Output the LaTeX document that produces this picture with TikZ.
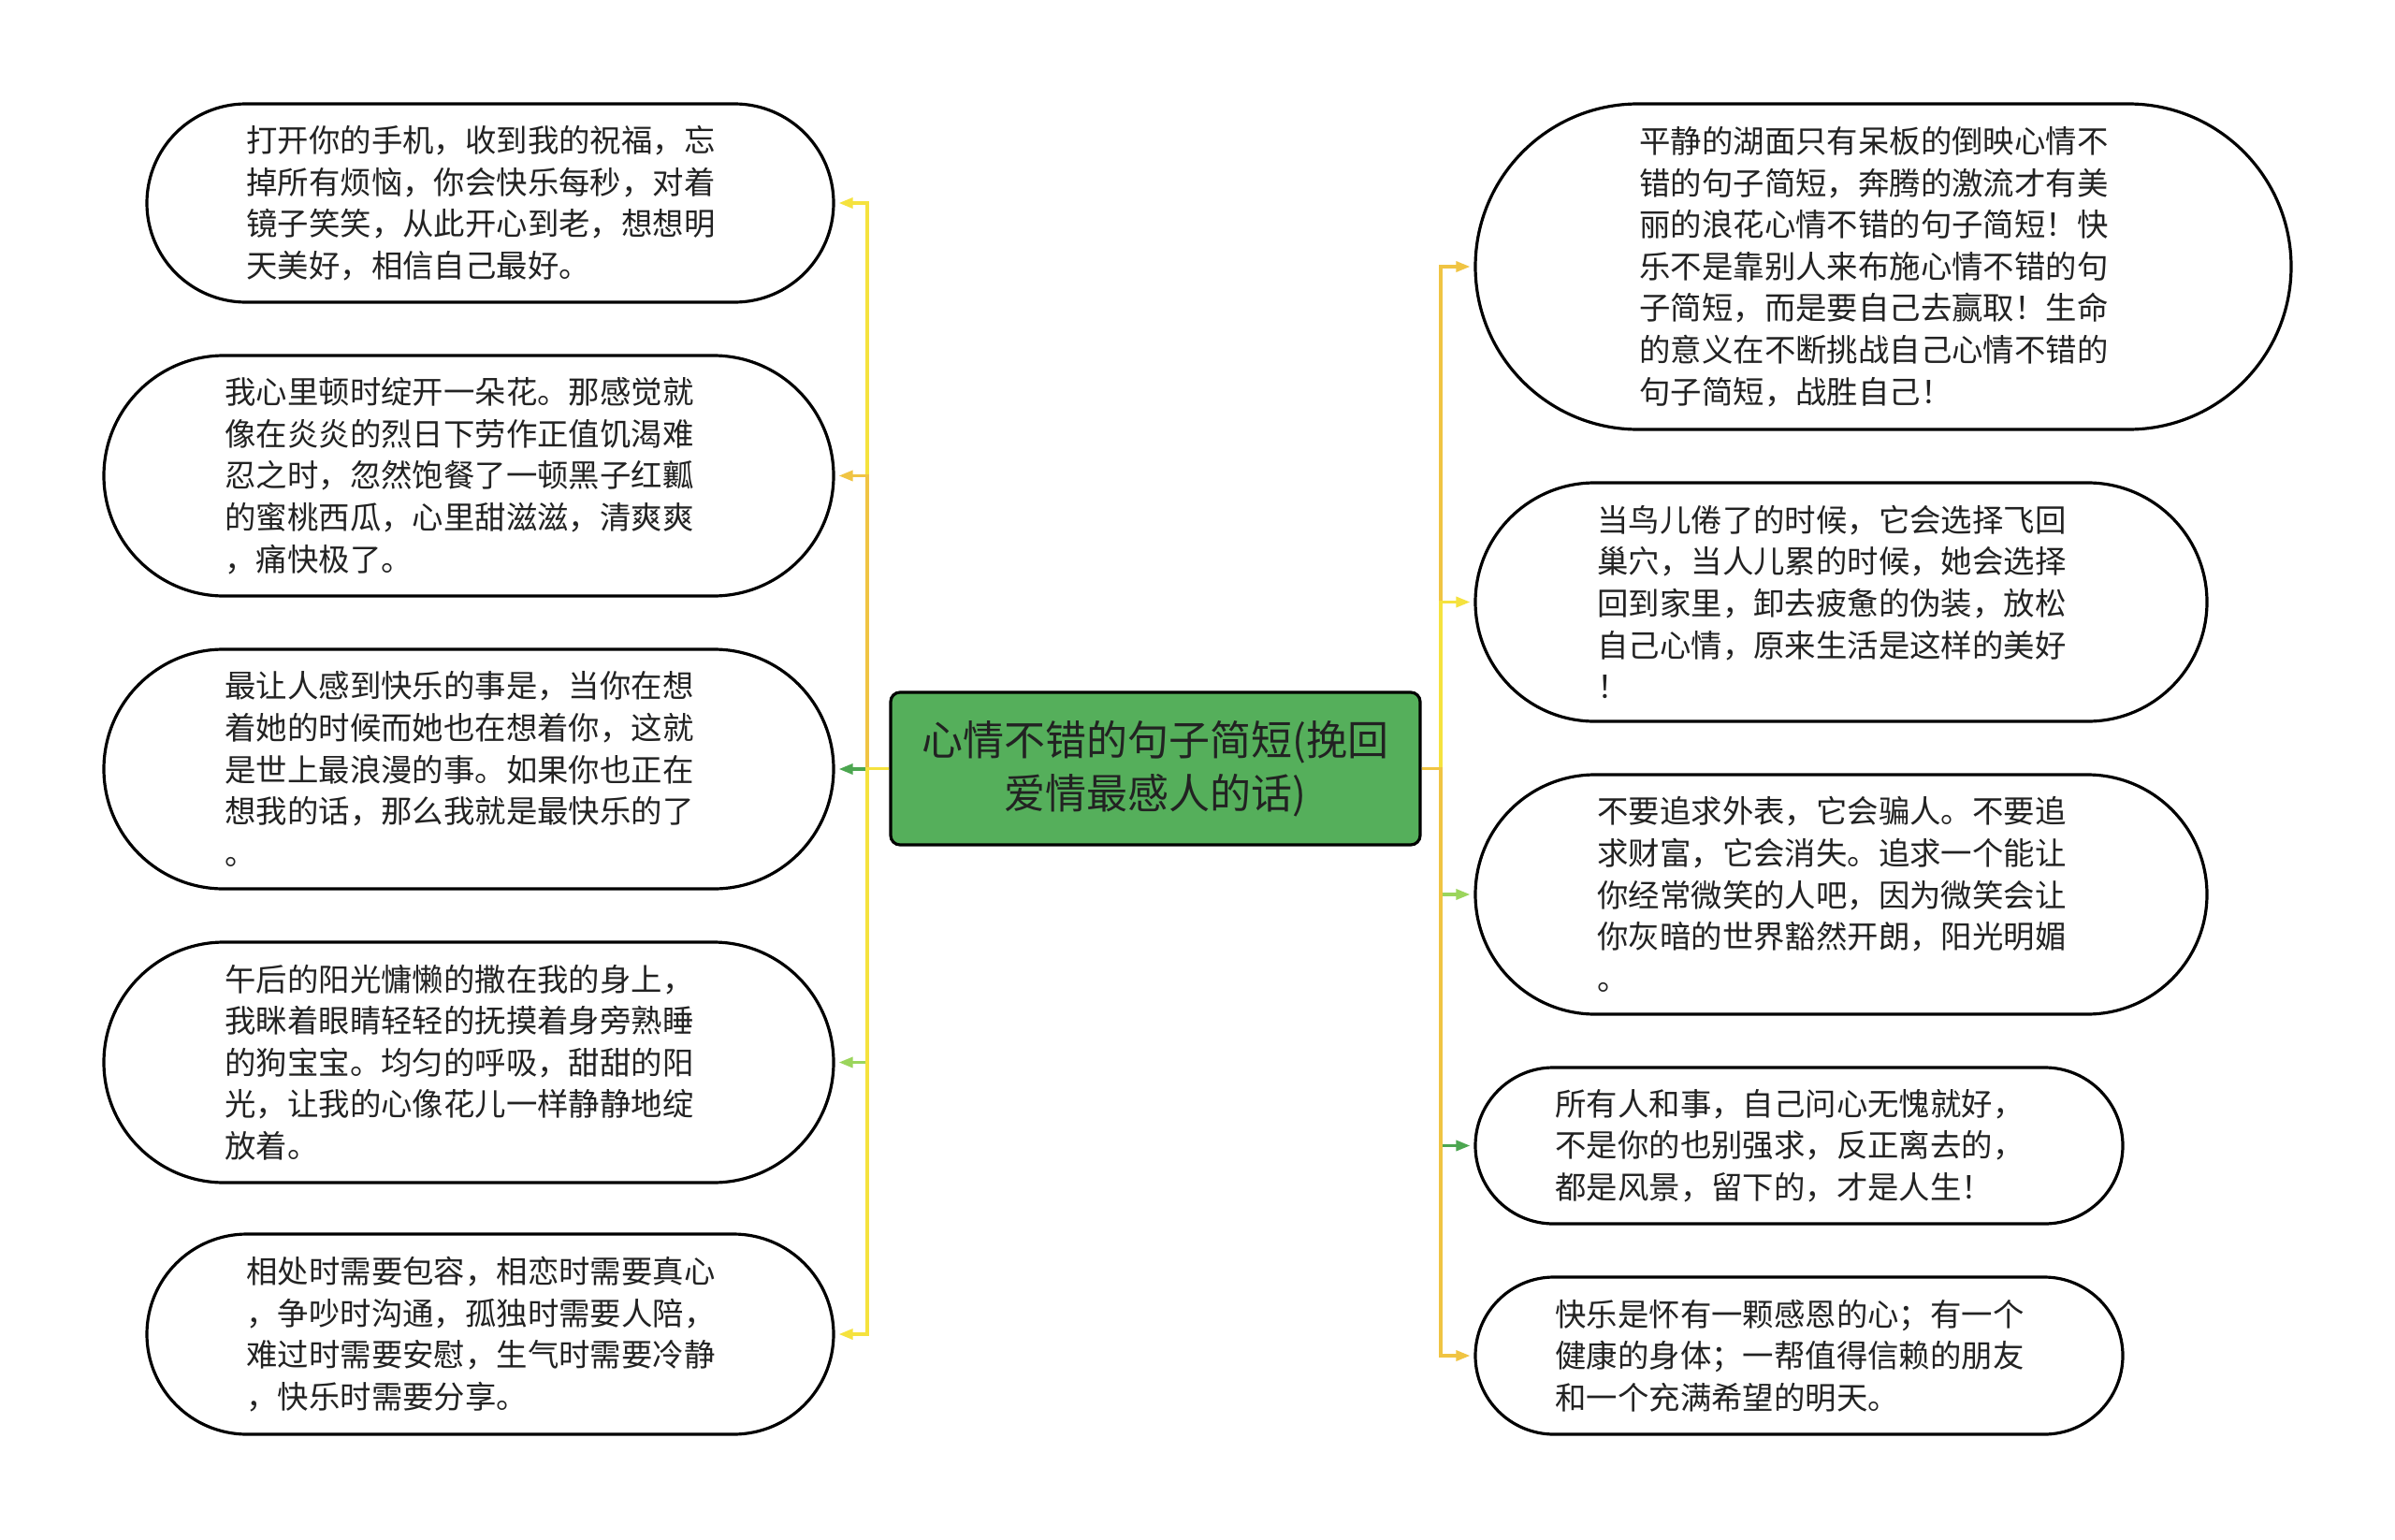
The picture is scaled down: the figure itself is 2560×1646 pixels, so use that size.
\documentclass[tikz,border=0pt]{standalone}
\usepackage{fontspec}
\setmainfont{Noto Sans CJK SC}
\usetikzlibrary{positioning,arrows.meta,shapes.misc}
\definecolor{rootgreen}{HTML}{55AF5B}
\definecolor{lineyellow}{HTML}{F5E23E}
\definecolor{lineorange}{HTML}{F0C443}
\definecolor{linegreen}{HTML}{4CA650}
\definecolor{linelime}{HTML}{9BD55C}
\definecolor{txtgray}{HTML}{222222}

\begin{document}
\begin{tikzpicture}[x=1pt,y=1pt,
	leaf/.style={rounded rectangle,draw=black,line width=3.2pt,fill=white,inner xsep=0pt,text width=521pt,align=left,font=\fontsize{33.4}{44.6}\selectfont,text=txtgray},
	link/.style={line width=3.2pt,-{Triangle[length=15pt,width=11pt]},shorten >=4pt}]
		\fill[white] (0,0) rectangle (2560,-1646);
		\useasboundingbox (0,0) rectangle (2560,-1646);
		
		\node[draw=black,line width=3.2pt,fill=rootgreen,rounded corners=10pt,minimum width=566pt,minimum height=163pt,align=center,font=\fontsize{44}{57}\selectfont,text=txtgray] (root) at (1235,-821.5) {心情不错的句子简短(挽回\\爱情最感人的话)};
		
		% left side
		\node[leaf,minimum width=734pt,minimum height=212pt] (l1) at (524,-217) {打开你的手机，收到我的祝福，忘\\掉所有烦恼，你会快乐每秒，对着\\镜子笑笑，从此开心到老，想想明\\天美好，相信自己最好。};
		\node[leaf,minimum width=780pt,minimum height=257pt] (l2) at (501,-508.5) {我心里顿时绽开一朵花。那感觉就\\像在炎炎的烈日下劳作正值饥渴难\\忍之时，忽然饱餐了一顿黑子红瓤\\的蜜桃西瓜，心里甜滋滋，清爽爽\\，痛快极了。};
		\node[leaf,minimum width=780pt,minimum height=256pt] (l3) at (501,-822) {最让人感到快乐的事是，当你在想\\着她的时候而她也在想着你，这就\\是世上最浪漫的事。如果你也正在\\想我的话，那么我就是最快乐的了\\。};
		\node[leaf,minimum width=780pt,minimum height=257pt] (l4) at (501,-1135.5) {午后的阳光慵懒的撒在我的身上，\\我眯着眼睛轻轻的抚摸着身旁熟睡\\的狗宝宝。均匀的呼吸，甜甜的阳\\光，让我的心像花儿一样静静地绽\\放着。};
		\node[leaf,minimum width=734pt,minimum height=214pt] (l5) at (524,-1426) {相处时需要包容，相恋时需要真心\\，争吵时沟通，孤独时需要人陪，\\难过时需要安慰，生气时需要冷静\\，快乐时需要分享。};
		
		% right side
		\node[leaf,minimum width=872pt,minimum height=348pt] (r1) at (2013,-285) {平静的湖面只有呆板的倒映心情不\\错的句子简短，奔腾的激流才有美\\丽的浪花心情不错的句子简短！快\\乐不是靠别人来布施心情不错的句\\子简短，而是要自己去赢取！生命\\的意义在不断挑战自己心情不错的\\句子简短，战胜自己！};
		\node[leaf,minimum width=782pt,minimum height=255pt] (r2) at (1968,-643.5) {当鸟儿倦了的时候，它会选择飞回\\巢穴，当人儿累的时候，她会选择\\回到家里，卸去疲惫的伪装，放松\\自己心情，原来生活是这样的美好\\！};
		\node[leaf,minimum width=782pt,minimum height=256pt] (r3) at (1968,-956) {不要追求外表，它会骗人。不要追\\求财富，它会消失。追求一个能让\\你经常微笑的人吧，因为微笑会让\\你灰暗的世界豁然开朗，阳光明媚\\。};
		\node[leaf,minimum width=692pt,minimum height=167pt] (r4) at (1923,-1224.5) {所有人和事，自己问心无愧就好，\\不是你的也别强求，反正离去的，\\都是风景，留下的，才是人生！};
		\node[leaf,minimum width=692pt,minimum height=168pt] (r5) at (1923,-1449) {快乐是怀有一颗感恩的心；有一个\\健康的身体；一帮值得信赖的朋友\\和一个充满希望的明天。};
		
		\coordinate (lj) at (927,-821.5);
		\coordinate (rj) at (1540,-821.5);
		
		\draw[link,lineyellow] (root.west) -- (lj) |- (l1.east);
		\draw[link,lineorange] (root.west) -- (lj) |- (l2.east);
		\draw[link,linegreen] (root.west) -- (lj) |- (l3.east);
		\draw[link,linelime] (root.west) -- (lj) |- (l4.east);
		\draw[link,lineyellow] (root.west) -- (lj) |- (l5.east);
		
		\draw[link,lineorange] (root.east) -- (rj) |- (r1.west);
		\draw[link,lineyellow] (root.east) -- (rj) |- (r2.west);
		\draw[link,linelime] (root.east) -- (rj) |- (r3.west);
		\draw[link,linegreen] (root.east) -- (rj) |- (r4.west);
		\draw[link,lineorange] (root.east) -- (rj) |- (r5.west);
	\end{tikzpicture}
\end{document}
